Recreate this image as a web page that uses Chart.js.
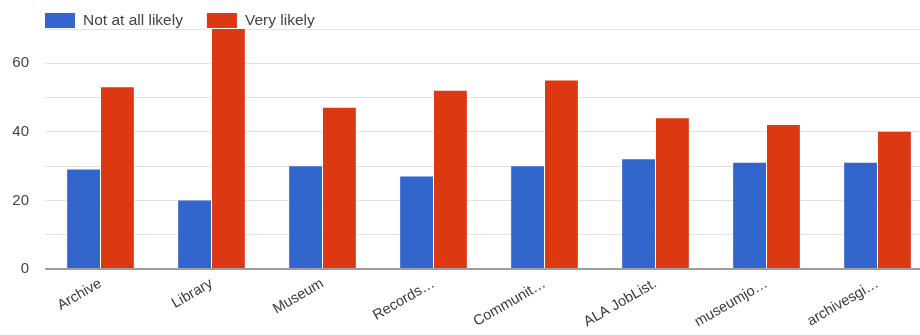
<!DOCTYPE html>
<html>
<head>
<meta charset="utf-8">
<script src="https://cdn.jsdelivr.net/npm/chart.js@4/dist/chart.umd.min.js"></script>
<style>
  html, body { margin: 0; padding: 0; background: #fff; overflow: hidden; }
  #wrap { width: 935px; height: 335px; }
</style>
</head>
<body>
<div id="wrap"><canvas id="c" width="935" height="335"></canvas></div>
<script>
// Job-board categories and survey responses per category
const categories = ["Archive", "Library", "Museum", "Records…", "Communit…", "ALA JobList.", "museumjo…", "archivesgi…"];
const notAtAllLikely = [29, 20, 30, 27, 30, 32, 31, 31];
const veryLikely = [53, 70, 47, 52, 55, 44, 42, 40];
const seriesNames = ["Not at all likely", "Very likely"];
const yTickLabels = [0, 20, 40, 60];

const FONT = "'Liberation Sans', Arial, sans-serif";

// Legend drawn along the top-left edge of the plot
const topLegend = {
  id: 'topLegend',
  afterDraw(chart) {
    const ctx = chart.ctx;
    ctx.save();
    ctx.font = "15.5px " + FONT;
    ctx.textBaseline = 'middle';
    ctx.textAlign = 'left';
    let x = chart.chartArea.left;
    chart.data.datasets.forEach(ds => {
      ctx.fillStyle = ds.backgroundColor;
      ctx.fillRect(x, 13, 30, 15);
      ctx.fillStyle = '#444';
      ctx.fillText(ds.label, x + 38, 21);
      x += 38 + ctx.measureText(ds.label).width + 24;
    });
    ctx.restore();
  }
};

new Chart(document.getElementById('c'), {
  type: 'bar',
  data: {
    labels: categories,
    datasets: [
      { label: seriesNames[0], data: notAtAllLikely, backgroundColor: '#3366cc' },
      { label: seriesNames[1], data: veryLikely, backgroundColor: '#dc3912' }
    ]
  },
  options: {
    responsive: false,
    devicePixelRatio: 1,
    animation: false,
    layout: { padding: { top: 29, right: 2, left: 0, bottom: 0 } },
    datasets: { bar: { categoryPercentage: 0.61, barPercentage: 0.97 } },
    plugins: { legend: { display: false }, tooltip: { enabled: false } },
    scales: {
      x: {
        grid: { display: false, drawTicks: false },
        border: { display: false },
        ticks: {
          autoSkip: false,
          minRotation: 30,
          maxRotation: 30,
          padding: 6,
          color: '#3a3a3a',
          font: { family: FONT, size: 14.5 }
        },
        afterFit(scale) { scale.height = 66; }
      },
      y: {
        min: 0,
        max: 70,
        grid: {
          drawTicks: false,
          color: ctx => ctx.tick && ctx.tick.value === 0 ? '#9e9e9e' : '#e3e3e3',
          lineWidth: ctx => ctx.tick && ctx.tick.value === 0 ? 2 : 1
        },
        border: { display: false },
        ticks: {
          stepSize: 10,
          padding: 16,
          color: '#444',
          font: { family: FONT, size: 15 },
          callback: v => yTickLabels.includes(v) ? String(v) : ''
        },
        afterFit(scale) { scale.width = 45; }
      }
    }
  },
  plugins: [topLegend]
});
</script>
</body>
</html>
